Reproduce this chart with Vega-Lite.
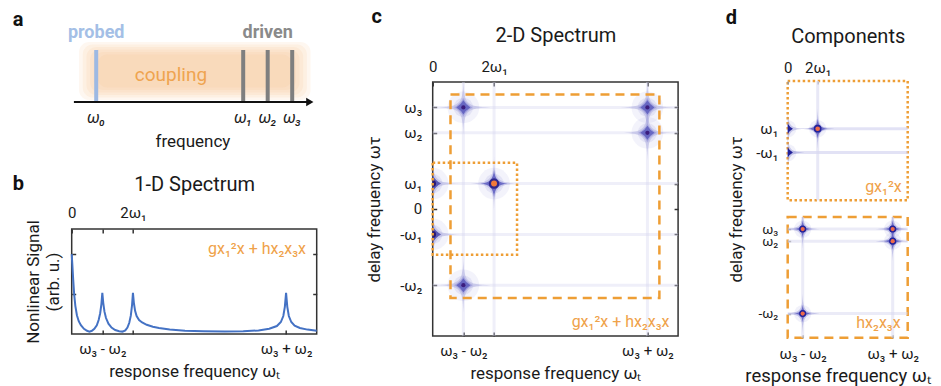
{
"$schema": "https://vega.github.io/schema/vega-lite/v6.json",
"background": "white",
"padding": {"left": 11.7, "top": 0, "right": 0, "bottom": 0},
"config": {
 "view": {"stroke": null},
 "font": "Roboto",
 "axis": {"labelFont": "Roboto", "titleFont": "Roboto", "labelFontSize": 15, "titleFontSize": 17, "labelColor": "#1a1a1a", "titleColor": "#1a1a1a", "titleFontWeight": "normal", "domain": false, "grid": false, "tickColor": "#333333", "tickWidth": 1.5, "tickSize": -4, "labelPadding": 12, "labelFlush": false, "labelOverlap": false},
 "title": {"font": "Roboto", "fontSize": 20, "fontWeight": "bold", "anchor": "start", "frame": "group", "color": "#111111"},
 "text": {"font": "Roboto"}
},
"datasets": {
 "bline": [
  {"x":0,"y":2.0},{"x":0.02,"y":1.75},{"x":0.05,"y":1.35},{"x":0.08,"y":1.0},{"x":0.12,"y":0.7},{"x":0.17,"y":0.47},{"x":0.23,"y":0.32},{"x":0.3,"y":0.22},{"x":0.4,"y":0.13},{"x":0.5,"y":0.08},{"x":0.58,"y":0.06},{"x":0.66,"y":0.08},{"x":0.74,"y":0.13},{"x":0.82,"y":0.22},{"x":0.88,"y":0.35},{"x":0.93,"y":0.52},{"x":0.97,"y":0.75},{"x":1.0,"y":1.03},{"x":1.03,"y":0.78},{"x":1.07,"y":0.56},{"x":1.12,"y":0.4},{"x":1.2,"y":0.26},{"x":1.3,"y":0.16},{"x":1.42,"y":0.1},{"x":1.55,"y":0.07},{"x":1.66,"y":0.06},{"x":1.75,"y":0.09},{"x":1.82,"y":0.16},{"x":1.88,"y":0.28},{"x":1.93,"y":0.46},{"x":1.97,"y":0.72},{"x":2.0,"y":1.03},{"x":2.03,"y":0.78},{"x":2.07,"y":0.58},{"x":2.12,"y":0.45},{"x":2.2,"y":0.35},{"x":2.3,"y":0.29},{"x":2.45,"y":0.23},{"x":2.65,"y":0.18},{"x":2.85,"y":0.15},{"x":3.2,"y":0.11},{"x":3.7,"y":0.08},{"x":4.3,"y":0.07},{"x":5.0,"y":0.06},{"x":5.6,"y":0.07},{"x":6.1,"y":0.09},{"x":6.45,"y":0.13},{"x":6.7,"y":0.2},{"x":6.83,"y":0.3},{"x":6.91,"y":0.45},{"x":6.96,"y":0.68},{"x":7.0,"y":1.03},{"x":7.04,"y":0.68},{"x":7.09,"y":0.45},{"x":7.17,"y":0.3},{"x":7.28,"y":0.21},{"x":7.45,"y":0.15},{"x":7.7,"y":0.11},{"x":8.0,"y":0.08}
 ],
 "b_note": [{"x":7.65,"y":2.13,"t":"gx₁²x + hx₂x₃x"}],
 "a_band": [
  {"x":0.3,"x2":9.75,"y":5.5,"y2":11.3},{"x":0.45,"x2":9.6,"y":5.75,"y2":11.05},{"x":0.6,"x2":9.45,"y":6.0,"y2":10.8},{"x":0.75,"x2":9.3,"y":6.25,"y2":10.55},{"x":0.9,"x2":9.15,"y":6.5,"y2":10.3},{"x":1.05,"x2":9.0,"y":6.75,"y2":10.05}
 ],
 "a_bars": [
  {"x":1,"y":5.3,"y2":10.5,"role":"probe"},{"x":7,"y":5.3,"y2":10.5,"role":"drive"},{"x":8,"y":5.3,"y2":10.5,"role":"drive"},{"x":9,"y":5.3,"y2":10.5,"role":"drive"}
 ],
 "a_axis": [{"x":0.09,"x2":9.7,"y":5.3}],
 "a_head": [{"x":9.72,"y":5.3}],
 "a_text": [
  {"x":1.0,"y":12.2,"t":"probed","role":"probe"},
  {"x":8.0,"y":12.2,"t":"driven","role":"drive"},
  {"x":4.05,"y":8.0,"t":"coupling","role":"coupling"},
  {"x":1.0,"y":3.7,"t":"ω₀","role":"w"},
  {"x":7.0,"y":3.7,"t":"ω₁","role":"w"},
  {"x":8.0,"y":3.7,"t":"ω₂","role":"w"},
  {"x":9.0,"y":3.7,"t":"ω₃","role":"w"},
  {"x":4.95,"y":1.3,"t":"frequency","role":"freq"}
 ],
 "c_peaks": [
  {"x":1,"y":4,"k":"d"},{"x":7,"y":4,"k":"d"},{"x":7,"y":3,"k":"d"},{"x":1,"y":-3,"k":"d"},
  {"x":0,"y":1,"k":"e"},{"x":0,"y":-1,"k":"e"},{"x":2,"y":1,"k":"s"}
 ],
 "c_hs": [
  {"x":0,"x2":8,"y":4},{"x":0,"x2":8,"y":3},{"x":0,"x2":8,"y":1},{"x":0,"x2":8,"y":-1},{"x":0,"x2":8,"y":-3}
 ],
 "c_vs": [
  {"x":1,"y":-5,"y2":5},{"x":2,"y":-5,"y2":5},{"x":7,"y":-5,"y2":5}
 ],
 "c_boxes": [
  {"x":0.58,"x2":7.39,"y":-3.5,"y2":4.51,"g":"total"},
  {"x":0.0,"x2":2.75,"y":-1.8,"y2":1.82,"g":"g"}
 ],
 "c_note": [{"x":7.72,"y":-4.45,"t":"gx₁²x + hx₂x₃x"}],
 "d1_peaks": [{"x":0,"y":1,"k":"e"},{"x":0,"y":-1,"k":"e"},{"x":2,"y":1,"k":"s"}],
 "d1_hs": [{"x":2,"x2":8,"y":1},{"x":0,"x2":8,"y":-1}],
 "d1_vs": [{"x":2,"y":-5,"y2":5}],
 "d1_note": [{"x":7.6,"y":-3.87,"t":"gx₁²x"}],
 "d2_peaks": [{"x":1,"y":4},{"x":7,"y":4},{"x":7,"y":3},{"x":1,"y":-3}],
 "d2_hs": [{"x":0,"x2":8,"y":4},{"x":0,"x2":8,"y":3},{"x":0,"x2":8,"y":-3}],
 "d2_vs": [{"x":1,"y":-5,"y2":5},{"x":7,"y":-5,"y2":5}],
 "d2_note": [{"x":7.53,"y":-3.8,"t":"hx₂x₃x"}]
},
"spacing": 43,
"hconcat": [
 {
  "spacing": 74,
  "bounds": "flush",
  "vconcat": [
   {
    "width": 245, "height": 155,
    "title": {"text": "a", "dx": -59, "dy": 34},
    "encoding": {
     "x": {"field": "x", "type": "quantitative", "scale": {"domain": [0, 10], "nice": false, "zero": false}, "axis": null},
     "y": {"field": "y", "type": "quantitative", "scale": {"domain": [0, 15.5], "nice": false, "zero": false}, "axis": null}
    },
    "layer": [
     {"data": {"name": "a_band"}, "mark": {"type": "rect", "color": "#F5BE80", "opacity": 0.12, "cornerRadius": 10}, "encoding": {"x2": {"field": "x2"}, "y2": {"field": "y2"}}},
     {"data": {"name": "a_bars"}, "transform": [{"filter": "datum.role == 'probe'"}], "mark": {"type": "rule", "color": "#9DB9E3", "strokeWidth": 4}, "encoding": {"y2": {"field": "y2"}}},
     {"data": {"name": "a_bars"}, "transform": [{"filter": "datum.role == 'drive'"}], "mark": {"type": "rule", "color": "#7F7F7F", "strokeWidth": 4}, "encoding": {"y2": {"field": "y2"}}},
     {"data": {"name": "a_axis"}, "mark": {"type": "rule", "color": "#111111", "strokeWidth": 2}, "encoding": {"x2": {"field": "x2"}}},
     {"data": {"name": "a_head"}, "mark": {"type": "point", "shape": "triangle-right", "filled": true, "color": "#111111", "size": 70, "opacity": 1}},
     {"data": {"name": "a_text"}, "transform": [{"filter": "datum.role == 'probe'"}], "mark": {"type": "text", "fontSize": 18, "fontWeight": "bold", "color": "#A4BFE6", "baseline": "middle"}, "encoding": {"text": {"field": "t"}}},
     {"data": {"name": "a_text"}, "transform": [{"filter": "datum.role == 'drive'"}], "mark": {"type": "text", "fontSize": 18, "fontWeight": "bold", "color": "#8A8A8A", "baseline": "middle"}, "encoding": {"text": {"field": "t"}}},
     {"data": {"name": "a_text"}, "transform": [{"filter": "datum.role == 'coupling'"}], "mark": {"type": "text", "fontSize": 19, "color": "#EFA450", "baseline": "middle"}, "encoding": {"text": {"field": "t"}}},
     {"data": {"name": "a_text"}, "transform": [{"filter": "datum.role == 'w'"}], "mark": {"type": "text", "fontSize": 16, "fontStyle": "italic", "color": "#1a1a1a", "baseline": "middle"}, "encoding": {"text": {"field": "t"}}},
     {"data": {"name": "a_text"}, "transform": [{"filter": "datum.role == 'freq'"}], "mark": {"type": "text", "fontSize": 17, "color": "#1a1a1a", "baseline": "middle"}, "encoding": {"text": {"field": "t"}}}
    ]
   },
   {
    "width": 245, "height": 105,
    "title": {"text": "b", "dx": -59, "dy": 24},
    "view": {"stroke": "#333333", "strokeWidth": 1.5},
    "resolve": {"axis": {"x": "independent", "y": "independent"}},
    "layer": [
     {"data": {"name": "bline"}, "mark": {"type": "line", "color": "#4472C4", "strokeWidth": 2},
      "encoding": {
       "x": {"field": "x", "type": "quantitative", "scale": {"domain": [0, 8], "nice": false, "zero": false},
             "axis": {"orient": "bottom", "values": [1, 2, 7], "labelExpr": "datum.value == 1 ? 'ω₃ - ω₂' : (datum.value == 7 ? 'ω₃ + ω₂' : '')", "title": "response frequency ωₜ", "titlePadding": 7}},
       "y": {"field": "y", "type": "quantitative", "scale": {"domain": [0, 2.63], "nice": false, "zero": false},
             "axis": {"orient": "left", "values": [1, 2], "labels": false, "title": ["Nonlinear Signal", "(arb. u.)"], "titlePadding": 8, "titleLineHeight": 20}}
      }},
     {"data": {"name": "b_note"}, "mark": {"type": "text", "fontSize": 16, "color": "#EFA24A", "align": "right", "baseline": "middle"},
      "encoding": {
       "x": {"field": "x", "type": "quantitative", "scale": {"domain": [0, 8], "nice": false, "zero": false},
             "axis": {"orient": "top", "values": [0, 1, 2], "labelExpr": "datum.value == 0 ? '0' : (datum.value == 2 ? '2ω₁' : '')", "title": "1-D Spectrum", "titleFontSize": 20, "titlePadding": 12}},
       "y": {"field": "y", "type": "quantitative", "scale": {"domain": [0, 2.63], "nice": false, "zero": false},
             "axis": {"orient": "right", "values": [1, 2], "labels": false, "title": null}},
       "text": {"field": "t"}
      }}
    ]
   }
  ]
 },
 {
  "spacing": 10,
  "bounds": "flush",
  "vconcat": [
   {"width": 10, "height": 71.7, "data": {"values": []}, "mark": "point"},
   {
    "width": 245.4, "height": 254,
    "title": {"text": "c", "dx": -61.3, "dy": 6},
    "view": {"stroke": "#333333", "strokeWidth": 1.5},
    "resolve": {"axis": {"x": "independent", "y": "independent"}},
    "encoding": {
     "x": {"field": "x", "type": "quantitative", "scale": {"domain": [0, 8], "nice": false, "zero": false}, "axis": null},
     "y": {"field": "y", "type": "quantitative", "scale": {"domain": [-5, 5], "nice": false, "zero": false}, "axis": null}
    },
    "layer": [
     {"data": {"name": "c_hs"}, "mark": {"type": "rule", "color": "#D8D8F0", "strokeWidth": 3, "opacity": 0.4}, "encoding": {"x2": {"field": "x2"}}},
     {"data": {"name": "c_vs"}, "mark": {"type": "rule", "color": "#D8D8F0", "strokeWidth": 3, "opacity": 0.4}, "encoding": {"y2": {"field": "y2"}}},
     {"data": {"name": "c_peaks"}, "mark": {"type": "point", "shape": "circle", "filled": true, "color": "#8C8CD6", "size": 1000, "opacity": 0.1, "clip": true},
      "encoding": {
       "x": {"field": "x", "type": "quantitative", "scale": {"domain": [0, 8], "nice": false, "zero": false},
             "axis": {"orient": "bottom", "values": [1, 2, 7], "labelExpr": "datum.value == 1 ? 'ω₃ - ω₂' : (datum.value == 7 ? 'ω₃ + ω₂' : '')", "title": "response frequency ωₜ", "titlePadding": 7}},
       "y": {"field": "y", "type": "quantitative", "scale": {"domain": [-5, 5], "nice": false, "zero": false},
             "axis": {"orient": "left", "values": [4, 3, 1, 0, -1, -3], "labelExpr": "datum.value == 4 ? 'ω₃' : datum.value == 3 ? 'ω₂' : datum.value == 1 ? 'ω₁' : datum.value == 0 ? '0' : datum.value == -1 ? '-ω₁' : '-ω₂'", "labelPadding": 15, "title": "delay frequency ωτ", "titleX": -49}}
      }},
     {"data": {"name": "c_peaks"}, "mark": {"type": "point", "shape": "circle", "filled": true, "color": "#8C8CD6", "size": 380, "opacity": 0.15, "clip": true}},
     {"data": {"name": "c_peaks"}, "mark": {"type": "point", "shape": "M0,-1C0.02,-0.12 0.12,-0.02 1,0C0.12,0.02 0.02,0.12 0,1C-0.02,0.12 -0.12,0.02 -1,0C-0.12,-0.02 -0.02,-0.12 0,-1Z", "filled": true, "color": "#8A8AD2", "size": 3000, "opacity": 0.3, "strokeWidth": 0, "clip": true}},
     {"data": {"name": "c_peaks"}, "transform": [{"filter": "datum.k == 'd'"}], "mark": {"type": "point", "shape": "M0,-1Q0.35,-0.35 1,0Q0.35,0.35 0,1Q-0.35,0.35 -1,0Q-0.35,-0.35 0,-1Z", "filled": true, "color": "#A4A4DE", "size": 330, "opacity": 1, "strokeWidth": 0}},
     {"data": {"name": "c_peaks"}, "transform": [{"filter": "datum.k == 'd'"}], "mark": {"type": "point", "shape": "M0,-1Q0.35,-0.35 1,0Q0.35,0.35 0,1Q-0.35,0.35 -1,0Q-0.35,-0.35 0,-1Z", "filled": true, "color": "#6767C2", "size": 200, "opacity": 1, "strokeWidth": 0}},
     {"data": {"name": "c_peaks"}, "transform": [{"filter": "datum.k == 'd'"}], "mark": {"type": "point", "shape": "circle", "filled": true, "color": "#3B1D7E", "size": 18, "opacity": 1}},
     {"data": {"name": "c_peaks"}, "transform": [{"filter": "datum.k == 's'"}], "mark": {"type": "point", "shape": "M0,-1C0.08,-0.3 0.3,-0.08 1,0C0.3,0.08 0.08,0.3 0,1C-0.08,0.3 -0.3,0.08 -1,0C-0.3,-0.08 -0.08,-0.3 0,-1Z", "filled": true, "color": "#6B6BC6", "size": 750, "opacity": 1, "strokeWidth": 0}},
     {"data": {"name": "c_peaks"}, "transform": [{"filter": "datum.k == 's'"}], "mark": {"type": "point", "shape": "circle", "filled": true, "color": "#30288C", "size": 110, "opacity": 1}},
     {"data": {"name": "c_peaks"}, "transform": [{"filter": "datum.k == 's'"}], "mark": {"type": "point", "shape": "circle", "filled": true, "color": "#F27A3A", "size": 36, "opacity": 1}},
     {"data": {"name": "c_peaks"}, "transform": [{"filter": "datum.k == 'e'"}], "mark": {"type": "point", "shape": "M0,-1Q0.35,-0.35 1,0Q0.35,0.35 0,1Q-0.35,0.35 -1,0Q-0.35,-0.35 0,-1Z", "filled": true, "color": "#5A5AB6", "size": 280, "opacity": 1, "strokeWidth": 0, "clip": true}},
     {"data": {"name": "c_peaks"}, "transform": [{"filter": "datum.k == 'e'"}], "mark": {"type": "point", "shape": "circle", "filled": true, "color": "#2B1A72", "size": 45, "opacity": 1, "clip": true}},
     {"data": {"name": "c_boxes"}, "transform": [{"filter": "datum.g == 'total'"}], "mark": {"type": "rect", "filled": false, "stroke": "#EE9E35", "strokeWidth": 2.5, "strokeDash": [9, 6]}, "encoding": {"x2": {"field": "x2"}, "y2": {"field": "y2"}}},
     {"data": {"name": "c_boxes"}, "transform": [{"filter": "datum.g == 'g'"}], "mark": {"type": "rect", "filled": false, "stroke": "#EE9E35", "strokeWidth": 2.5, "strokeDash": [2.5, 2.5]}, "encoding": {"x2": {"field": "x2"}, "y2": {"field": "y2"}}},
     {"data": {"name": "c_note"}, "mark": {"type": "text", "fontSize": 16, "color": "#EFA24A", "align": "right", "baseline": "middle"},
      "encoding": {
       "x": {"field": "x", "type": "quantitative", "scale": {"domain": [0, 8], "nice": false, "zero": false},
             "axis": {"orient": "top", "values": [0, 2, 7], "labelExpr": "datum.value == 0 ? '0' : (datum.value == 2 ? '2ω₁' : '')", "title": "2-D Spectrum", "titleFontSize": 20, "titlePadding": 14}},
       "y": {"field": "y", "type": "quantitative", "scale": {"domain": [-5, 5], "nice": false, "zero": false},
             "axis": {"orient": "right", "values": [4, 3, 1, 0, -1, -3], "labels": false, "title": null}},
       "text": {"field": "t"}
      }}
    ]
   }
  ]
 },
 {
  "spacing": 16,
  "bounds": "flush",
  "vconcat": [
   {"width": 10, "height": 64.7, "data": {"values": []}, "mark": "point"},
   {
    "width": 120, "height": 119.3,
    "title": {"text": "d", "dx": -62, "dy": 6},
    "view": {"stroke": "#EE9E35", "strokeWidth": 2.5, "strokeDash": [2.5, 2.5]},
    "resolve": {"axis": {"x": "independent", "y": "independent"}},
    "encoding": {
     "x": {"field": "x", "type": "quantitative", "scale": {"domain": [0, 8], "nice": false, "zero": false}, "axis": null},
     "y": {"field": "y", "type": "quantitative", "scale": {"domain": [-5, 5], "nice": false, "zero": false}, "axis": null}
    },
    "layer": [
     {"data": {"name": "d1_hs"}, "mark": {"type": "rule", "color": "#CFCFEE", "strokeWidth": 3, "opacity": 0.6}, "encoding": {"x2": {"field": "x2"}}},
     {"data": {"name": "d1_vs"}, "mark": {"type": "rule", "color": "#D8D8F0", "strokeWidth": 3, "opacity": 0.6}, "encoding": {"y2": {"field": "y2"}}},
     {"data": {"name": "d1_peaks"}, "mark": {"type": "point", "shape": "circle", "filled": true, "color": "#8C8CD6", "size": 300, "opacity": 0.12, "clip": true},
      "encoding": {
       "x": {"field": "x", "type": "quantitative", "scale": {"domain": [0, 8], "nice": false, "zero": false},
             "axis": {"orient": "top", "values": [0, 2], "labelExpr": "datum.value == 0 ? '0' : '2ω₁'", "tickColor": "#999999", "tickSize": -3, "labelPadding": 9, "title": "Components", "titleFontSize": 20, "titlePadding": 14}},
       "y": {"field": "y", "type": "quantitative", "scale": {"domain": [-5, 5], "nice": false, "zero": false},
             "axis": {"orient": "left", "values": [1, -1], "labelExpr": "datum.value == 1 ? 'ω₁' : '-ω₁'", "tickColor": "#999999", "tickSize": -3, "labelPadding": 13, "title": null}}
      }},
     {"data": {"name": "d1_peaks"}, "mark": {"type": "point", "shape": "M0,-1C0.02,-0.12 0.12,-0.02 1,0C0.12,0.02 0.02,0.12 0,1C-0.02,0.12 -0.12,0.02 -1,0C-0.12,-0.02 -0.02,-0.12 0,-1Z", "filled": true, "color": "#8A8AD2", "size": 1600, "opacity": 0.4, "strokeWidth": 0, "clip": true}},
     {"data": {"name": "d1_peaks"}, "transform": [{"filter": "datum.k == 's'"}], "mark": {"type": "point", "shape": "M0,-1C0.08,-0.3 0.3,-0.08 1,0C0.3,0.08 0.08,0.3 0,1C-0.08,0.3 -0.3,0.08 -1,0C-0.3,-0.08 -0.08,-0.3 0,-1Z", "filled": true, "color": "#6B6BC6", "size": 400, "opacity": 1, "strokeWidth": 0}},
     {"data": {"name": "d1_peaks"}, "transform": [{"filter": "datum.k == 's'"}], "mark": {"type": "point", "shape": "circle", "filled": true, "color": "#22229A", "size": 60, "opacity": 1}},
     {"data": {"name": "d1_peaks"}, "transform": [{"filter": "datum.k == 's'"}], "mark": {"type": "point", "shape": "circle", "filled": true, "color": "#EE6A4A", "size": 22, "opacity": 1}},
     {"data": {"name": "d1_peaks"}, "transform": [{"filter": "datum.k == 'e'"}], "mark": {"type": "point", "shape": "M0,-1Q0.35,-0.35 1,0Q0.35,0.35 0,1Q-0.35,0.35 -1,0Q-0.35,-0.35 0,-1Z", "filled": true, "color": "#22229A", "size": 110, "opacity": 1, "strokeWidth": 0, "clip": true}},
     {"data": {"name": "d1_note"}, "mark": {"type": "text", "fontSize": 16, "color": "#EFA24A", "align": "right", "baseline": "middle"}, "encoding": {"text": {"field": "t"}}}
    ]
   },
   {
    "width": 120, "height": 120.7,
    "view": {"stroke": "#EE9E35", "strokeWidth": 2.5, "strokeDash": [9, 6]},
    "resolve": {"axis": {"x": "independent", "y": "independent"}},
    "encoding": {
     "x": {"field": "x", "type": "quantitative", "scale": {"domain": [0, 8], "nice": false, "zero": false}, "axis": null},
     "y": {"field": "y", "type": "quantitative", "scale": {"domain": [-5, 5], "nice": false, "zero": false}, "axis": null}
    },
    "layer": [
     {"data": {"name": "d2_hs"}, "mark": {"type": "rule", "color": "#D8D8F0", "strokeWidth": 3, "opacity": 0.5}, "encoding": {"x2": {"field": "x2"}}},
     {"data": {"name": "d2_vs"}, "mark": {"type": "rule", "color": "#D8D8F0", "strokeWidth": 3, "opacity": 0.5}, "encoding": {"y2": {"field": "y2"}}},
     {"data": {"name": "d2_peaks"}, "mark": {"type": "point", "shape": "circle", "filled": true, "color": "#8C8CD6", "size": 300, "opacity": 0.12, "clip": true},
      "encoding": {
       "x": {"field": "x", "type": "quantitative", "scale": {"domain": [0, 8], "nice": false, "zero": false},
             "axis": {"orient": "bottom", "values": [1, 7], "labelExpr": "datum.value == 1 ? 'ω₃ - ω₂' : 'ω₃ + ω₂'", "tickColor": "#999999", "tickSize": -3, "title": "response frequency ωₜ", "titleFontSize": 18.5, "titleX": 50, "titlePadding": 5}},
       "y": {"field": "y", "type": "quantitative", "scale": {"domain": [-5, 5], "nice": false, "zero": false},
             "axis": {"orient": "left", "values": [4, 3, -3], "labelExpr": "datum.value == 4 ? 'ω₃' : datum.value == 3 ? 'ω₂' : '-ω₂'", "labelFontSize": 13.5, "tickColor": "#999999", "tickSize": -3, "labelPadding": 13, "title": "delay frequency ωτ", "titleX": -42, "titleY": -8}}
      }},
     {"data": {"name": "d2_peaks"}, "mark": {"type": "point", "shape": "M0,-1C0.02,-0.12 0.12,-0.02 1,0C0.12,0.02 0.02,0.12 0,1C-0.02,0.12 -0.12,0.02 -1,0C-0.12,-0.02 -0.02,-0.12 0,-1Z", "filled": true, "color": "#8A8AD2", "size": 1600, "opacity": 0.4, "strokeWidth": 0, "clip": true}},
     {"data": {"name": "d2_peaks"}, "mark": {"type": "point", "shape": "M0,-1C0.08,-0.3 0.3,-0.08 1,0C0.3,0.08 0.08,0.3 0,1C-0.08,0.3 -0.3,0.08 -1,0C-0.3,-0.08 -0.08,-0.3 0,-1Z", "filled": true, "color": "#6B6BC6", "size": 300, "opacity": 1, "strokeWidth": 0}},
     {"data": {"name": "d2_peaks"}, "mark": {"type": "point", "shape": "circle", "filled": true, "color": "#22229A", "size": 50, "opacity": 1}},
     {"data": {"name": "d2_peaks"}, "mark": {"type": "point", "shape": "circle", "filled": true, "color": "#EE6A4A", "size": 18, "opacity": 1}},
     {"data": {"name": "d2_note"}, "mark": {"type": "text", "fontSize": 16, "color": "#EFA24A", "align": "right", "baseline": "middle"}, "encoding": {"text": {"field": "t"}}}
    ]
   }
  ]
 }
]
}
